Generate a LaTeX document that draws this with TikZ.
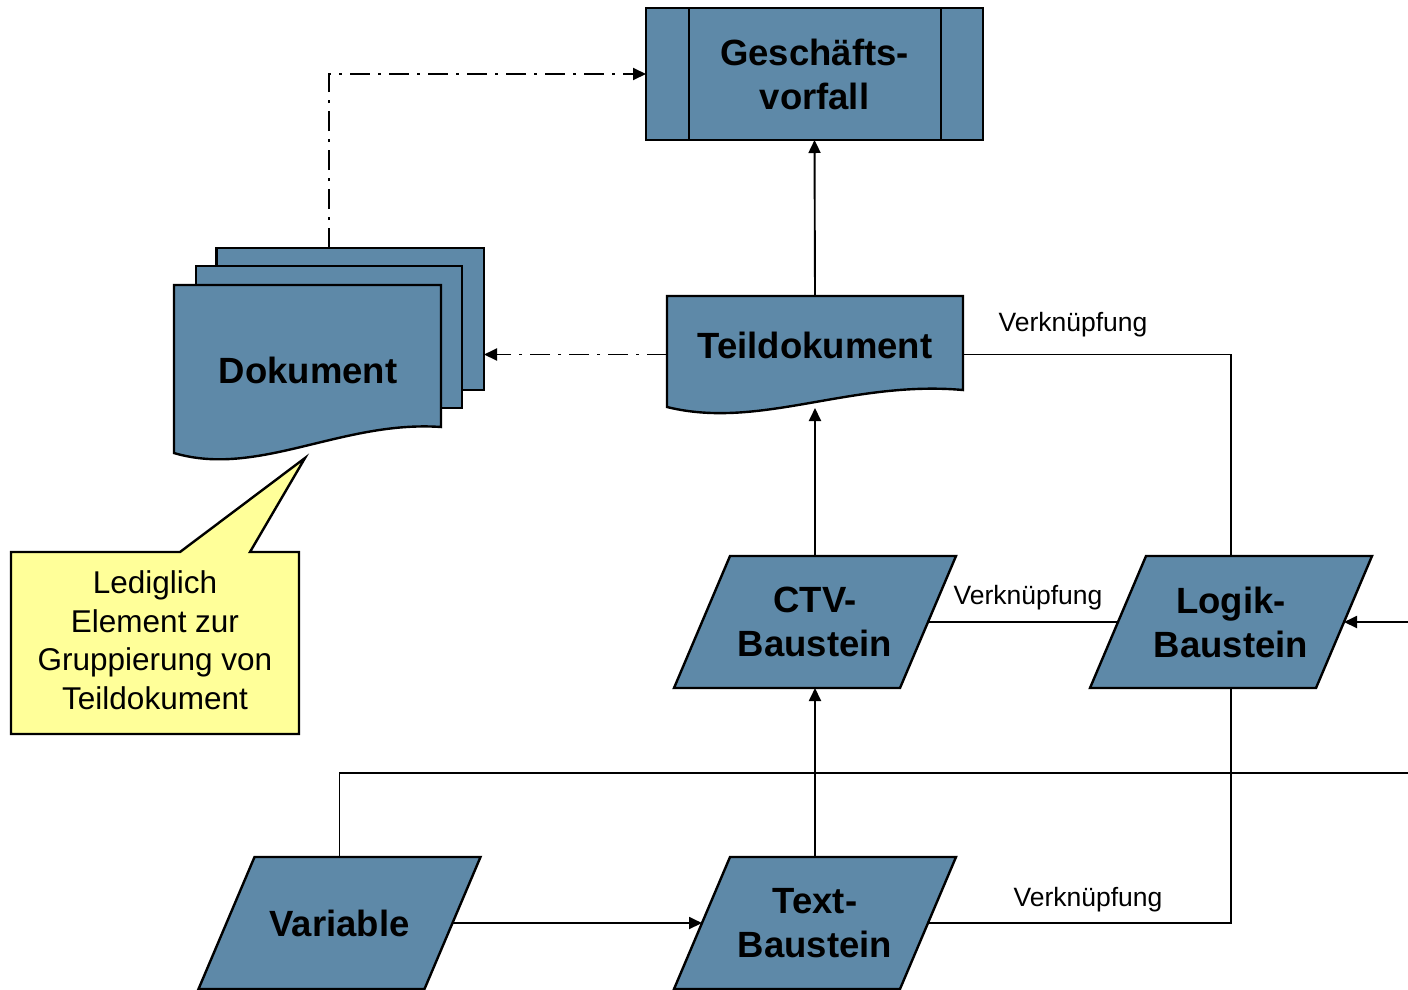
\documentclass[tikz,border=0pt]{standalone}
\usepackage{fontspec}
\setmainfont{Liberation Sans}
\usetikzlibrary{arrows.meta,calc}
\definecolor{boxblue}{RGB}{94,137,168}
\definecolor{noteyellow}{RGB}{255,255,153}
\tikzset{
  shp/.style={draw=black, line width=2.4pt, fill=boxblue, line join=miter},
  big/.style={font=\fontsize{36.5}{44}\selectfont\bfseries, align=center, inner sep=0pt},
  lbl/.style={font=\fontsize{26.5}{32}\selectfont, inner sep=0pt},
  note/.style={font=\fontsize{31.5}{38.5}\selectfont, align=center, inner sep=0pt},
  conn/.style={line width=1.9pt},
  arr/.style={conn, -{Triangle[length=13pt,width=12pt]}},
  dashdot/.style={dash pattern=on 20pt off 8pt on 3pt off 8pt},
  box/.style={inner sep=0pt, outer sep=0pt},
  pbox/.style={box, minimum width=226pt, minimum height=132pt, big},
}
% parallelogram: name, centre x, centre y, text
\newcommand{\mypgram}[4]{%
  \draw[shp] ({#2-85},{#3-66}) -- ({#2+141},{#3-66}) -- ({#2+85},{#3+66}) -- ({#2-141},{#3+66}) -- cycle;
  \node[pbox] (#1) at (#2,#3) {#4};
}
\begin{document}
\begin{tikzpicture}[x=1pt,y=-1pt]
\useasboundingbox (0,0) rectangle (1408,989);

% Geschaeftsvorfall (predefined process)
\node[shp, box, minimum width=337pt, minimum height=132pt, big] (gv) at (814.5,74) {Geschäfts-\\vorfall};
\draw[line width=2.4pt] ([xshift=43pt]gv.north west) -- ([xshift=43pt]gv.south west);
\draw[line width=2.4pt] ([xshift=-42pt]gv.north east) -- ([xshift=-42pt]gv.south east);

% Dokument (multi-document)
\draw[shp] (216.5,248) rectangle (484,390);
\draw[shp] (196,266) rectangle (462,408);
\draw[shp] (174,285) -- (441,285) -- (441,427) .. controls (342,420) and (258,478) .. (174,453) -- cycle;
\node[box, minimum width=310pt, minimum height=213pt] (dokument) at (329,354.5) {};
\node[big] (doktext) at (308,370) {Dokument};

% Teildokument (document)
\draw[shp] (667,296) -- (963,296) -- (963,390) .. controls (850,380) and (760,430) .. (667,407) -- cycle;
\node[box, minimum width=296pt, minimum height=117pt] (teil) at (815,354.5) {};
\node[big] (teiltext) at (815,345) {Teildokument};

% Callout
\draw[draw=black, line width=2.4pt, fill=noteyellow, line join=miter]
  (11,552) -- (180,552) -- (305,458) -- (250,552) -- (299,552) -- (299,734) -- (11,734) -- cycle;
\node[note] (notetext) at (155,640) {Lediglich\\Element zur\\Gruppierung von\\Teildokument};

% Parallelograms
\mypgram{ctv}{815}{622}{CTV-\\Baustein}
\mypgram{logik}{1231}{622}{Logik-\\Baustein}
\mypgram{var}{339.5}{923}{Variable}
\mypgram{textb}{815}{923}{Text-\\Baustein}

\coordinate (rin) at (1408,622);
\coordinate (rout) at (1408,773);

% Connectors
\draw[arr] (teil.north) -- (gv.south);
\draw[arr, dashdot] (dokument.north) |- (gv.west);
\draw[arr, dashdot] (teil.west) -- (dokument.east);
\draw[conn] (teil.east) -| (logik.north);
\draw[arr] (ctv.north) -- ([yshift=5pt]teil.south);
\draw[conn] (ctv.east) -- (logik.west);
\draw[arr] (rin) -- (logik.east);
\draw[arr] (textb.north) -- (ctv.south);
\draw[conn] (var.north) |- (rout);
\draw[arr] (var.east) -- (textb.west);
\draw[conn] (textb.east) -| (logik.south);

% Labels
\node[lbl] (l1) at (1073,325) {Verknüpfung};
\node[lbl] (l2) at (1028,598) {Verknüpfung};
\node[lbl] (l3) at (1088,900) {Verknüpfung};
\end{tikzpicture}
\end{document}
